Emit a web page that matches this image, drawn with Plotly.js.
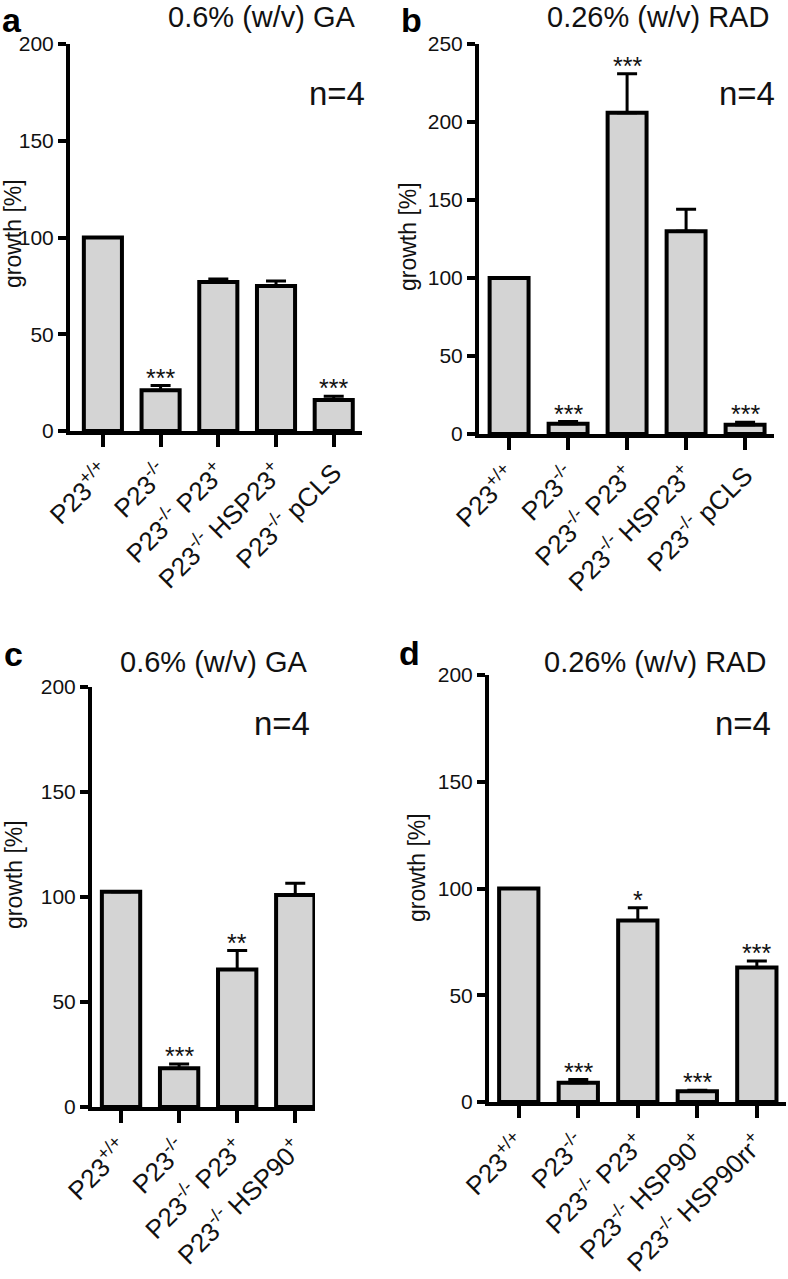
<!DOCTYPE html>
<html><head><meta charset="utf-8">
<script src="https://cdn.plot.ly/plotly-3.0.1.min.js"></script>
<style>body{margin:0;padding:0;background:#fff}#chart{width:788px;height:1279px}</style>
</head><body><div id="chart"></div>
<script>
// ---- data ----
const catsA = ['P23<sup>+/+</sup>', 'P23<sup>-/-</sup>', 'P23<sup>-/-</sup> P23<sup>+</sup>', 'P23<sup>-/-</sup> HSP23<sup>+</sup>', 'P23<sup>-/-</sup> pCLS'];
const valsA = [100, 21, 77, 75, 16];
const errA  = [0, 2.5, 1.5, 2.5, 2];
const starsA = ['', '***', '', '', '***'];

const catsB = ['P23<sup>+/+</sup>', 'P23<sup>-/-</sup>', 'P23<sup>-/-</sup> P23<sup>+</sup>', 'P23<sup>-/-</sup> HSP23<sup>+</sup>', 'P23<sup>-/-</sup> pCLS'];
const valsB = [100, 6.5, 206, 130, 6];
const errB  = [0, 1.5, 25, 14, 1.5];
const starsB = ['', '***', '***', '', '***'];

const catsC = ['P23<sup>+/+</sup>', 'P23<sup>-/-</sup>', 'P23<sup>-/-</sup> P23<sup>+</sup>', 'P23<sup>-/-</sup> HSP90<sup>+</sup>'];
const valsC = [102.5, 18.5, 65.5, 101];
const errC  = [0, 2, 9, 5.5];
const starsC = ['', '***', '**', ''];

const catsD = ['P23<sup>+/+</sup>', 'P23<sup>-/-</sup>', 'P23<sup>-/-</sup> P23<sup>+</sup>', 'P23<sup>-/-</sup> HSP90<sup>+</sup>', 'P23<sup>-/-</sup> HSP90rr<sup>+</sup>'];
const valsD = [100, 9, 85, 5, 63];
const errD  = [0, 1.5, 6, 0.5, 3];
const starsD = ['', '***', '*', '***', '***'];

const titles = ['0.6% (w/v) GA', '0.26% (w/v) RAD', '0.6% (w/v) GA', '0.26% (w/v) RAD'];
const letters = ['a', 'b', 'c', 'd'];
const nText = 'n=4';
const yTitle = 'growth [%]';
const yMax = [200, 250, 200, 200];

// ---- layout geometry (pixels) ----
const W = 788, H = 1279;
const FONT = 'Liberation Sans, Arial, Helvetica, sans-serif';
const panels = [
  {cats: catsA, vals: valsA, err: errA, stars: starsA, px: [70, 362], py: [431, 44], xr: [-0.57, 4.49],
   title: [262, 0], letter: [12, 0], n: [337, 94], yt: [13, 234]},
  {cats: catsB, vals: valsB, err: errB, stars: starsB, px: [479, 774], py: [434, 44], xr: [-0.51, 4.49],
   title: [658, 0], letter: [411, 0], n: [747, 94], yt: [408, 237]},
  {cats: catsC, vals: valsC, err: errC, stars: starsC, px: [92, 315], py: [1107, 687], xr: [-0.5, 3.34],
   title: [214, 645], letter: [13, 634], n: [282, 723], yt: [14, 875]},
  {cats: catsD, vals: valsD, err: errD, stars: starsD, px: [489, 786], py: [1102, 675], xr: [-0.5, 4.49],
   title: [655, 645], letter: [410, 633], n: [743, 723], yt: [417, 867]}
];

const data = [];
const layout = {
  width: W, height: H, margin: {l: 0, r: 0, t: 0, b: 0},
  paper_bgcolor: '#fff', plot_bgcolor: 'rgba(0,0,0,0)',
  showlegend: false,
  font: {family: FONT, color: '#111'},
  annotations: []
};
const fx = v => v / W, fy = v => 1 - v / H;

panels.forEach((p, i) => {
  const k = i === 0 ? '' : String(i + 1);
  data.push({
    type: 'bar', x: p.cats, y: p.vals, xaxis: 'x' + k, yaxis: 'y' + k,
    width: 0.66,
    marker: {color: '#d4d4d4', line: {color: '#000', width: 4}},
    error_y: {type: 'data', symmetric: false, array: p.err, arrayminus: p.err.map(() => 0),
              color: '#000', thickness: 3, width: 10},
    hoverinfo: 'skip'
  });
  layout['xaxis' + k] = {
    domain: [fx(p.px[0]), fx(p.px[1])], anchor: 'y' + k, range: p.xr,
    type: 'category', showgrid: false, zeroline: false,
    showline: true, linecolor: '#000', linewidth: 4,
    ticks: 'outside', ticklen: 12, tickwidth: 4, tickcolor: '#000',
    tickangle: -45, tickfont: {size: 26, family: FONT, color: '#111'}, fixedrange: true
  };
  layout['yaxis' + k] = {
    domain: [fy(p.py[0]), fy(p.py[1])], anchor: 'x' + k, range: [0, yMax[i]],
    dtick: 50, showgrid: false, zeroline: false,
    showline: true, linecolor: '#000', linewidth: 4,
    ticks: 'outside', ticklen: 8, tickwidth: 4, tickcolor: '#000',
    tickfont: {size: 21, family: FONT, color: '#111'}, fixedrange: true
  };
  layout.annotations.push({xref: 'paper', yref: 'paper', x: fx(p.title[0]), y: fy(p.title[1]),
    xanchor: 'center', yanchor: 'top', borderpad: 0, showarrow: false, text: titles[i],
    font: {size: 29, family: FONT, color: '#111'}});
  layout.annotations.push({xref: 'paper', yref: 'paper', x: fx(p.letter[0]), y: fy(p.letter[1]),
    xanchor: 'center', yanchor: 'top', borderpad: 0, showarrow: false, text: '<b>' + letters[i] + '</b>',
    font: {size: 34, family: FONT, color: '#000'}});
  layout.annotations.push({xref: 'paper', yref: 'paper', x: fx(p.n[0]), y: fy(p.n[1]),
    xanchor: 'center', yanchor: 'middle', showarrow: false, text: nText,
    font: {size: 33, family: FONT, color: '#111'}});
  layout.annotations.push({xref: 'paper', yref: 'paper', x: fx(p.yt[0]), y: fy(p.yt[1]),
    xanchor: 'center', yanchor: 'middle', borderpad: 0, showarrow: false, text: yTitle, textangle: -90,
    font: {size: 23, family: FONT, color: '#111'}});
  p.stars.forEach((s, j) => {
    if (!s) return;
    layout.annotations.push({xref: 'x' + k, yref: 'y' + k, x: p.cats[j], y: p.vals[j] + p.err[j],
      xanchor: 'center', yanchor: 'bottom', yshift: -8, showarrow: false, text: s,
      font: {size: 25, family: FONT, color: '#111'}});
  });
});

Plotly.newPlot('chart', data, layout, {staticPlot: true});
</script></body></html>
